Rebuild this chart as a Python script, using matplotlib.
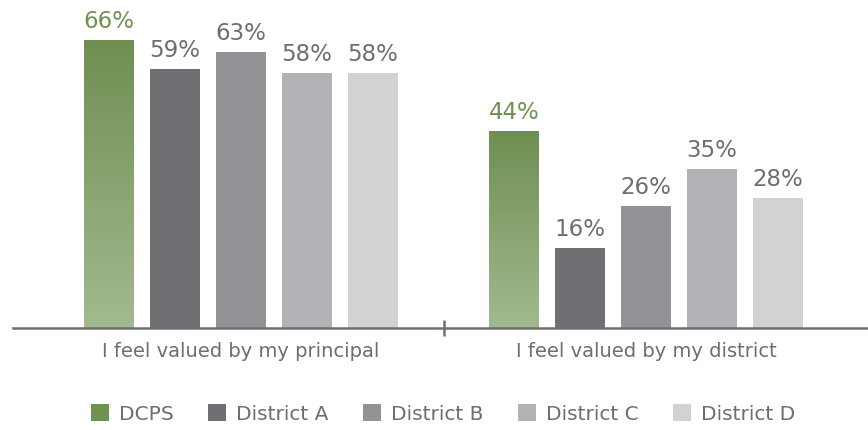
import numpy as np
import matplotlib
matplotlib.use("Agg")
import matplotlib.pyplot as plt
from matplotlib.patches import Patch
from matplotlib.colors import LinearSegmentedColormap

# data
categories = ["I feel valued by my principal", "I feel valued by my district"]
series = ["DCPS", "District A", "District B", "District C", "District D"]
dcps = [66, 44]
district_a = [59, 16]
district_b = [63, 26]
district_c = [58, 35]
district_d = [58, 28]
values = [dcps, district_a, district_b, district_c, district_d]

colors = ["#6f9152", "#707074", "#939397", "#b1b2b6", "#d1d2d4"]
text_gray = "#6d6e71"
green_top = "#6f8f52"
green_bot = "#a3b98f"

plt.rcParams['font.family'] = ['DejaVu Sans']

fig = plt.figure(figsize=(8.68, 4.30), dpi=100)
ax = fig.add_axes([13/868, 102/430, 855/868, 328/430])

ymin, ymax = -3.3, 75.5
step = 1.0
width = 50/66
group_gap = 405/66
centers = np.arange(len(categories)) * group_gap

gradient = LinearSegmentedColormap.from_list("g", [green_bot, green_top])
grad = np.linspace(0, 1, 256).reshape(-1, 1)

for i, (name, vals) in enumerate(zip(series, values)):
    xs = centers + (i - 2) * step
    heights = np.array(vals) - ymin
    bars = ax.bar(xs, heights, width=width, bottom=ymin, color=colors[i],
                  linewidth=0, zorder=2)
    for b, v in zip(bars, vals):
        if i == 0:
            b.set_facecolor("none")
            x0 = b.get_x()
            im = ax.imshow(grad, cmap=gradient, origin="lower", aspect="auto",
                           extent=[x0, x0 + width, ymin, v], zorder=2)
            im.set_clip_path(b)
        ax.annotate(f"{v}%", (b.get_x() + width/2, v), xytext=(0, 5),
                    textcoords="offset points", ha="center", va="bottom",
                    fontsize=16.5, color=colors[0] if i == 0 else text_gray)

ax.set_xlim(-3.455, -3.455 + 855/66)
ax.set_ylim(ymin, ymax)

for s in ["top", "right", "left"]:
    ax.spines[s].set_visible(False)
ax.spines["bottom"].set_color(text_gray)
ax.spines["bottom"].set_linewidth(1.8)
ax.set_yticks([])

ax.set_xticks(centers)
ax.set_xticklabels(categories, fontsize=14, color=text_gray)
ax.tick_params(axis="x", which="major", length=0, pad=10)
ax.set_xticks([centers.mean()], minor=True)
ax.tick_params(axis="x", which="minor", direction="inout", length=11,
               width=1.8, color=text_gray)

handles = [Patch(facecolor=c, edgecolor="none", label=s) for c, s in zip(colors, series)]
leg = fig.legend(handles=handles, loc="center", bbox_to_anchor=(443/868, 1 - 414/430),
                 ncol=5, frameon=False, fontsize=14.5, handlelength=0.9,
                 handleheight=0.9, handletextpad=0.5, columnspacing=1.7)
for t in leg.get_texts():
    t.set_color(text_gray)

fig.savefig("out.png", dpi=100)
